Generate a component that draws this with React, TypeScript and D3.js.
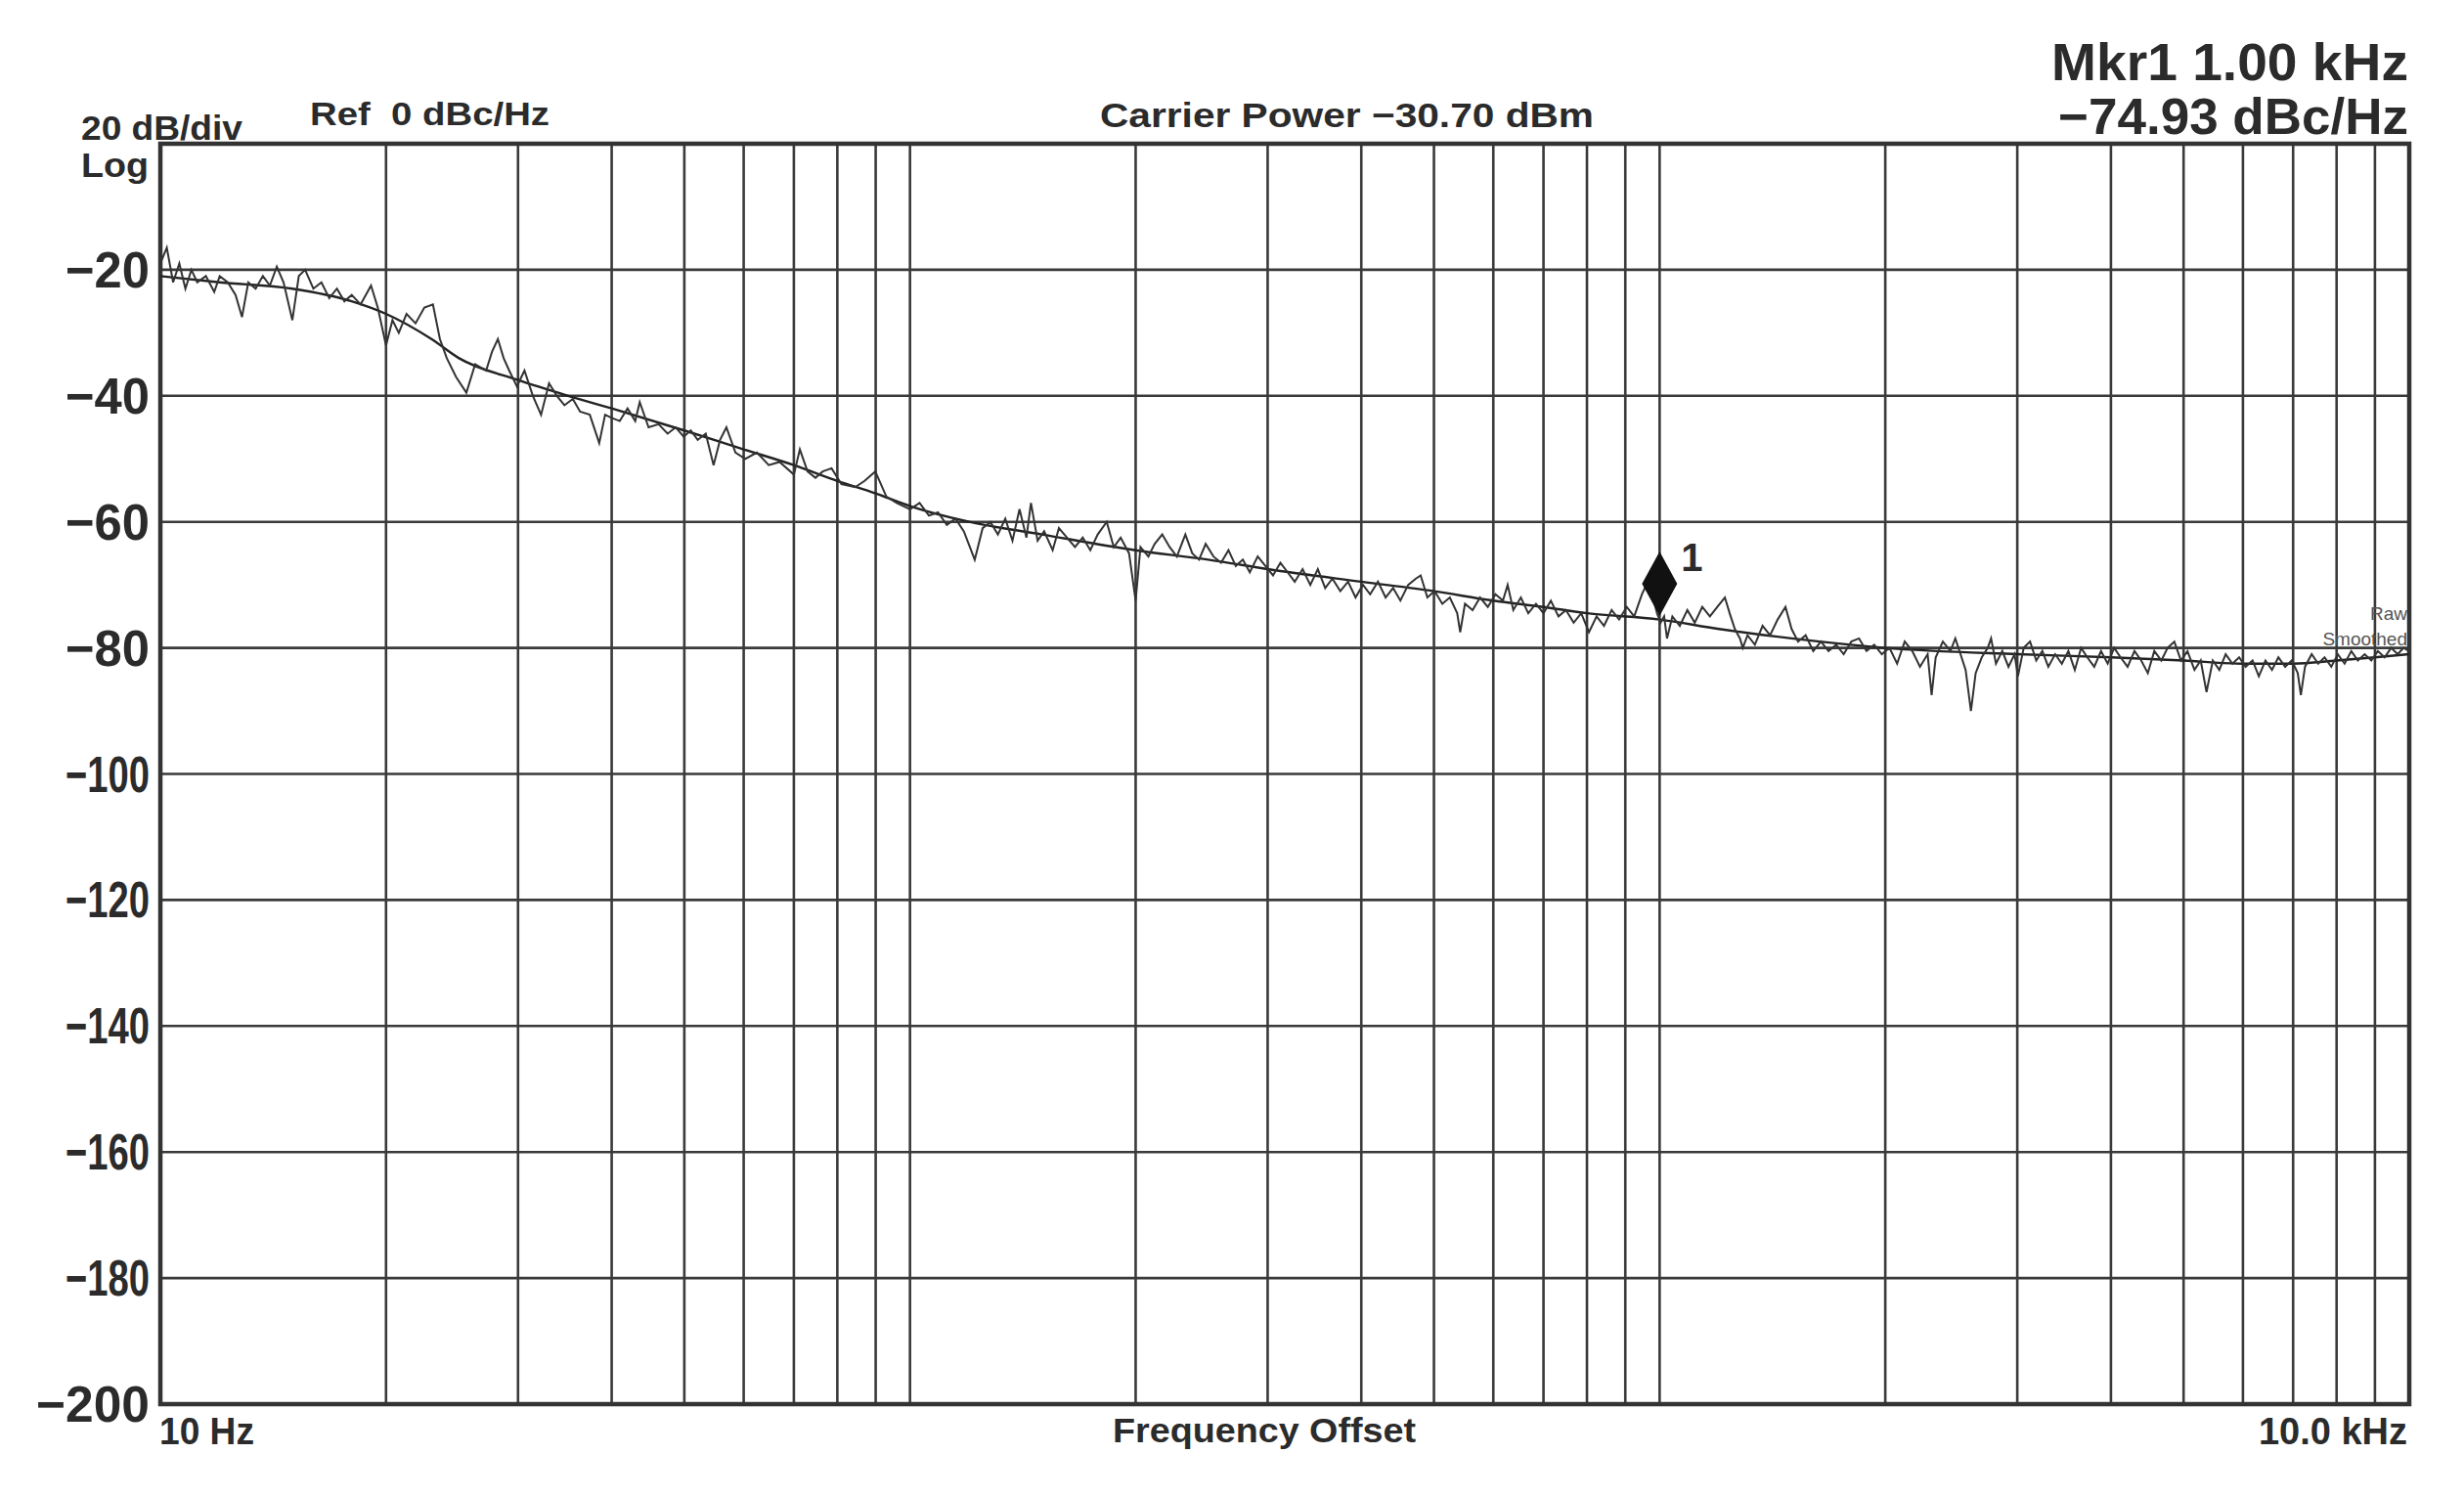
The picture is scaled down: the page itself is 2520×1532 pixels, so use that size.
import React, { useEffect, useRef } from 'react';
import * as d3 from 'd3';

// Phase noise trace: [offset Hz, dBc/Hz]
const rawTrace: [number, number][] = [
  [10, -19], [10.2, -16.5], [10.4, -22], [10.6, -19], [10.8, -23], [11.0, -20], [11.2, -22], [11.5, -21],
  [11.8, -23.5], [12.0, -21], [12.3, -22], [12.6, -24], [12.85, -27.5], [13.1, -22], [13.4, -23], [13.7, -21],
  [14.0, -22.5], [14.3, -19.5], [14.6, -22], [15.0, -28], [15.3, -21], [15.6, -20], [16.0, -23], [16.4, -22],
  [16.8, -24.5], [17.2, -23], [17.6, -25], [18.0, -24], [18.5, -25.5], [19.1, -22.5], [19.5, -26], [20.0, -32],
  [20.4, -28], [20.8, -30], [21.3, -27], [21.9, -28.5], [22.5, -26], [23.1, -25.5], [23.6, -31], [24.1, -34],
  [24.8, -37], [25.6, -39.5], [26.3, -35], [27.2, -36], [27.7, -33], [28.2, -31], [28.7, -34], [29.2, -36],
  [29.9, -38.5], [30.6, -36], [31.4, -40], [32.2, -43], [33.0, -38], [33.8, -40], [34.6, -41.5], [35.5, -40.5],
  [36.3, -42.5], [37.4, -43], [38.5, -47.5], [39.2, -43], [40, -43.5], [41, -44], [42, -42], [43, -44],
  [43.6, -41], [44.8, -45], [46.2, -44.5], [47.5, -46], [48.7, -45], [49.9, -46.5], [51, -45.5], [52.1, -47],
  [53.4, -46], [54.7, -51], [55.8, -47], [56.9, -45], [58.5, -49], [60.3, -50], [62.5, -49], [64.8, -51],
  [67, -50.5], [70, -52.5], [71.3, -48.5], [73, -52], [74.8, -53], [76.5, -52], [78.6, -51.5], [81, -54],
  [84.5, -54.5], [87, -53.5], [89.9, -52], [93, -56], [96, -57],
  [100, -58], [103, -57], [106, -59], [109, -58.5], [112, -60.5], [115, -59.5], [118, -61.5], [122, -66],
  [125, -61], [128, -60], [131, -62], [134, -59.5], [137, -63], [140, -58], [143, -62.5], [145, -57],
  [148, -63], [151, -61.5], [155, -64.5], [158, -61], [162, -62.5], [166, -64], [170, -62.5], [174, -64.5],
  [178, -62], [183, -60], [187, -64], [191, -62.5], [196, -65], [200, -72.5], [203, -64], [208, -65.5],
  [212, -63.5], [217, -62], [222, -64], [227, -65.5], [233, -62], [238, -65], [243, -66], [248, -63.5],
  [254, -65.5], [260, -66.5], [266, -64.5], [272, -67], [278, -66], [284, -68], [291, -65.5], [298, -67],
  [305, -68.5], [312, -66.5], [319, -68], [326, -69.5], [334, -67.5], [342, -70], [350, -67.5], [358, -70.5],
  [366, -69], [375, -71], [384, -69.5], [393, -72], [402, -70], [411, -71.5], [421, -69.5], [431, -72],
  [441, -70.5], [451, -72.5], [462, -70], [473, -69], [480, -68.5], [490, -72], [501, -71], [513, -73],
  [525, -72], [537, -74.5], [542, -77.5], [550, -73], [563, -74], [576, -72], [590, -73.5], [604, -71.5],
  [618, -72.5], [627, -70], [638, -74], [653, -72], [668, -74.5], [684, -73], [700, -74.5], [716, -72.5],
  [733, -75], [750, -74], [768, -76], [786, -74.5], [805, -77.5], [824, -75], [843, -76.5], [863, -74],
  [883, -75.5], [904, -73.5], [925, -75], [947, -71.5], [960, -70], [970, -68.5], [980, -72], [992, -74.5],
  [1003, -76], [1014, -75], [1023, -78.5], [1040, -75], [1064, -76.5], [1089, -74], [1114, -76], [1140, -73.5],
  [1167, -75], [1194, -73.5], [1222, -72], [1240, -74.5], [1260, -77], [1280, -78.5], [1291, -80], [1310, -78],
  [1340, -79.5], [1372, -76.5], [1404, -78], [1437, -75.5], [1472, -73.5], [1500, -77], [1530, -79], [1566, -78],
  [1603, -80.5], [1641, -79], [1680, -80.5], [1720, -79.5], [1760, -81], [1802, -79], [1845, -78.5], [1888, -80.5],
  [1933, -79.5], [1979, -81], [2026, -80], [2074, -82.5], [2123, -79], [2173, -80.5], [2225, -83], [2278, -81],
  [2306, -87.5], [2335, -81.5], [2387, -79], [2443, -80.5], [2480, -78.5], [2520, -81], [2560, -83.5], [2602, -90],
  [2640, -84], [2690, -81.5], [2740, -80], [2768, -78.5], [2810, -82.5], [2865, -80.5], [2920, -83], [2975, -81],
  [3006, -84.5], [3060, -80], [3120, -79], [3180, -82], [3240, -80.5], [3300, -83], [3370, -81], [3440, -82.5],
  [3510, -80.5], [3580, -83.5], [3650, -80], [3720, -81.5], [3800, -83], [3880, -80.5], [3960, -82.5], [4040, -80],
  [4120, -81.5], [4210, -83], [4300, -80.5], [4390, -82], [4480, -84], [4570, -80.5], [4670, -82], [4760, -80],
  [4860, -79], [4960, -82], [5060, -80.5], [5170, -83.5], [5270, -82], [5365, -87], [5470, -82], [5580, -83.5],
  [5690, -81], [5810, -82.5], [5930, -81.5], [6050, -83], [6180, -82], [6300, -84.5], [6430, -82], [6560, -83.5],
  [6690, -81.5], [6830, -83], [6970, -82], [7100, -84], [7168, -87.5], [7260, -83], [7410, -81], [7560, -82.5],
  [7710, -81.5], [7870, -83], [8030, -81], [8200, -82.5], [8370, -80.5], [8540, -82], [8720, -81], [8900, -82],
  [9080, -80.5], [9270, -81.5], [9460, -80], [9650, -81], [9830, -80], [10000, -80.5],
];

const smoothedTrace: [number, number][] = [
  [10, -21], [12, -22], [15, -23], [18, -25], [20, -27], [23, -31], [25, -34], [30, -37.5],
  [35, -40], [40, -42], [50, -45.5], [60, -48.5], [70, -51], [80, -53.5], [90, -55.5], [100, -57.5],
  [120, -60], [150, -62], [200, -64.5], [250, -66], [300, -67.5], [400, -69.5], [500, -71], [600, -72.5],
  [700, -73.5], [800, -74.5], [1000, -75.5], [1200, -77], [1500, -78.5], [2000, -80], [3000, -81], [4000, -81.5],
  [5000, -82], [6000, -82.5], [7000, -82.5], [8000, -82], [9000, -81.5], [10000, -81],
];

const yTicks = [-20, -40, -60, -80, -100, -120, -140, -160, -180, -200];
const marker = { freq: 1000, level: -74.93, label: '1' };

const FONT = '"Liberation Sans", Arial, sans-serif';
const INK = '#2b2b2b';

export default function App() {
  const svgRef = useRef<SVGSVGElement>(null);

  useEffect(() => {
    if (!svgRef.current) return;
    const svg = d3.select(svgRef.current);
    svg.selectAll('*').remove();

    const left = 164, right = 2464, top = 147, bottom = 1436;

    const x = d3.scaleLog().domain([10, 10000]).range([left, right]);
    const y = d3.scaleLinear().domain([-200, 0]).range([bottom, top]);

    const g = svg.append('g');

    // grid
    const vTicks = x.ticks().filter(t => t > 10 && t < 10000);
    g.selectAll('line.v')
      .data(vTicks)
      .join('line')
      .attr('x1', d => x(d)).attr('x2', d => x(d))
      .attr('y1', top).attr('y2', bottom)
      .attr('stroke', '#3a3a3a')
      .attr('stroke-width', 2.6);

    g.selectAll('line.h')
      .data(yTicks.filter(t => t > -200))
      .join('line')
      .attr('x1', left).attr('x2', right)
      .attr('y1', d => y(d)).attr('y2', d => y(d))
      .attr('stroke', '#3a3a3a')
      .attr('stroke-width', 2.6);

    // frame
    g.append('rect')
      .attr('x', left).attr('y', top)
      .attr('width', right - left).attr('height', bottom - top)
      .attr('fill', 'none')
      .attr('stroke', '#333')
      .attr('stroke-width', 4.5);

    const line = d3.line<[number, number]>()
      .x(d => x(d[0]))
      .y(d => y(d[1]));

    g.append('path')
      .datum(smoothedTrace)
      .attr('d', line.curve(d3.curveMonotoneX))
      .attr('fill', 'none')
      .attr('stroke', '#222')
      .attr('stroke-width', 2.4);

    g.append('path')
      .datum(rawTrace)
      .attr('d', line.curve(d3.curveLinear))
      .attr('fill', 'none')
      .attr('stroke', '#333')
      .attr('stroke-width', 2);

    // marker diamond, tip resting on the trace
    const mx = x(marker.freq);
    const my = y(marker.level);
    g.append('path')
      .attr('d', `M${mx},${my} L${mx - 18},${my - 33} L${mx},${my - 66} L${mx + 18},${my - 33} Z`)
      .attr('fill', '#111');
    g.append('text')
      .attr('x', mx + 22).attr('y', my - 46)
      .attr('font-family', FONT).attr('font-weight', 'bold')
      .attr('font-size', 40).attr('fill', INK)
      .text(marker.label);

    // y tick labels
    g.selectAll('text.yt')
      .data(yTicks)
      .join('text')
      .attr('x', 153)
      .attr('y', d => y(d) + 18)
      .attr('text-anchor', 'end')
      .attr('font-family', FONT).attr('font-weight', 'bold')
      .attr('font-size', 52).attr('fill', INK)
      .attr('textLength', d => (d === -200 ? 116 : 86))
      .attr('lengthAdjust', 'spacingAndGlyphs')
      .text(d => `\u2212${Math.abs(d)}`);

    const label = (t: string, lx: number, ly: number, size: number, len: number, weight = 'bold') =>
      g.append('text')
        .attr('x', lx).attr('y', ly)
        .attr('font-family', FONT).attr('font-weight', weight)
        .attr('font-size', size).attr('fill', INK)
        .attr('textLength', len)
        .attr('lengthAdjust', 'spacingAndGlyphs')
        .attr('xml:space', 'preserve')
        .text(t);

    label('20 dB/div', 83, 143, 35, 165);
    label('Log', 83, 181, 35, 69);
    label('Ref  0 dBc/Hz', 317, 128, 33, 245);
    label('Carrier Power \u221230.70 dBm', 1125, 130, 35, 505);
    label('Mkr1 1.00 kHz', 2098, 82, 54, 365);
    label('\u221274.93 dBc/Hz', 2105, 137, 52, 358);
    label('10 Hz', 163, 1477, 38, 97);
    label('10.0 kHz', 2310, 1477, 38, 152);
    label('Frequency Offset', 1138, 1475, 35, 310);

    // trace legend at right edge
    g.append('text')
      .attr('x', right - 2).attr('y', 634)
      .attr('text-anchor', 'end')
      .attr('font-family', FONT).attr('font-size', 19).attr('fill', '#555')
      .text('Raw');
    g.append('text')
      .attr('x', right - 2).attr('y', 660)
      .attr('text-anchor', 'end')
      .attr('font-family', FONT).attr('font-size', 19).attr('fill', '#555')
      .text('Smoothed');
  }, []);

  return (
    <svg
      ref={svgRef}
      width={2520}
      height={1532}
      style={{ position: 'absolute', left: 0, top: 0, background: '#fff' }}
    />
  );
}
